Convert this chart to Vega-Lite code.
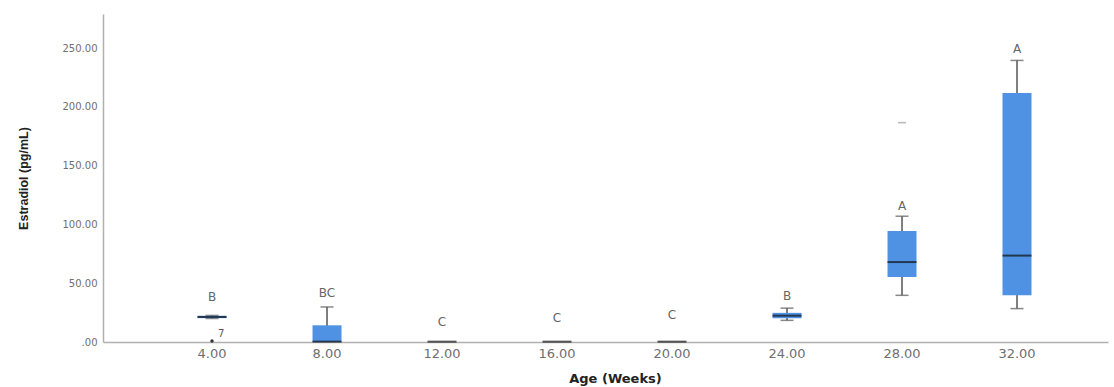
{
  "$schema": "https://vega.github.io/schema/vega-lite/v6.json",
  "autosize": {"type": "none"},
  "padding": {"left": 103, "top": 14, "right": 6, "bottom": 45},
  "width": 1005,
  "height": 328,
  "background": "white",
  "config": {
    "view": {"stroke": null},
    "font": "DejaVu Sans"
  },
  "datasets": {
    "boxes": [
      {"age": "4.00", "lower": 20.0, "q1": 20.3, "median": 21.3, "q3": 22.3, "upper": 22.6, "letter": "B", "letterY": 38},
      {"age": "8.00", "lower": 0, "q1": 0, "median": 0.3, "q3": 14.2, "upper": 29.8, "letter": "BC", "letterY": 42},
      {"age": "12.00", "lower": null, "q1": 0, "median": 0.3, "q3": 0, "upper": null, "letter": "C", "letterY": 17},
      {"age": "16.00", "lower": null, "q1": 0, "median": 0.3, "q3": 0, "upper": null, "letter": "C", "letterY": 20},
      {"age": "20.00", "lower": null, "q1": 0, "median": 0.3, "q3": 0, "upper": null, "letter": "C", "letterY": 22.7},
      {"age": "24.00", "lower": 18.4, "q1": 20.2, "median": 22.4, "q3": 24.8, "upper": 28.8, "letter": "B", "letterY": 39},
      {"age": "28.00", "lower": 39.7, "q1": 55.3, "median": 68.0, "q3": 94.4, "upper": 107.0, "letter": "A", "letterY": 116},
      {"age": "32.00", "lower": 28.4, "q1": 39.7, "median": 73.5, "q3": 211.7, "upper": 239.5, "letter": "A", "letterY": 249.5}
    ],
    "outliers": [
      {"age": "4.00", "value": 0.8, "label": "7"},
      {"age": "28.00", "value": 186.6, "label": ""}
    ]
  },
  "data": {"name": "boxes"},
  "encoding": {
    "x": {
      "field": "age",
      "type": "ordinal",
      "sort": ["4.00", "8.00", "12.00", "16.00", "20.00", "24.00", "28.00", "32.00"],
      "scale": {"paddingInner": 0, "paddingOuter": 0.3696, "align": 0.606},
      "axis": {
        "title": "Age (Weeks)",
        "labelAngle": 0,
        "ticks": false,
        "labelPadding": 5,
        "labelFontSize": 13,
        "labelColor": "#6f6f6f",
        "domainColor": "#b0b0b0",
        "domainWidth": 1.5,
        "titleFontSize": 13,
        "titleFontWeight": "bold",
        "titleColor": "#222222",
        "titleBaseline": "middle",
        "titleX": 512,
        "titleY": 36
      }
    }
  },
  "layer": [
    {
      "transform": [{"filter": "datum.upper != null"}],
      "mark": {"type": "rule", "color": "#555555", "strokeWidth": 1.5},
      "encoding": {
        "y": {
          "field": "lower",
          "type": "quantitative",
          "scale": {"domain": [0, 279], "nice": false},
          "axis": {
            "title": "Estradiol (pg/mL)",
            "values": [0, 50, 100, 150, 200, 250],
            "labelExpr": "datum.value == 0 ? '.00' : format(datum.value, '.2f')",
            "ticks": false,
            "grid": false,
            "labelPadding": 6,
            "labelFontSize": 10,
            "labelColor": "#6f6f6f",
            "domainColor": "#b0b0b0",
            "domainWidth": 1.5,
            "titleFont": "Liberation Sans",
            "titleFontSize": 12.5,
            "titleFontWeight": "bold",
            "titleColor": "#222222",
            "titleBaseline": "middle",
            "titleX": -80
          }
        },
        "y2": {"field": "upper"}
      }
    },
    {
      "transform": [{"filter": "datum.upper != null"}],
      "mark": {"type": "tick", "color": "#555555", "size": 13, "thickness": 1.5},
      "encoding": {"y": {"field": "upper", "type": "quantitative"}}
    },
    {
      "transform": [{"filter": "datum.lower != null && datum.lower > 0"}],
      "mark": {"type": "tick", "color": "#555555", "size": 13, "thickness": 1.5},
      "encoding": {"y": {"field": "lower", "type": "quantitative"}}
    },
    {
      "mark": {"type": "bar", "size": 29, "color": "#4f92e3"},
      "encoding": {
        "y": {"field": "q1", "type": "quantitative"},
        "y2": {"field": "q3"}
      }
    },
    {
      "mark": {"type": "tick", "color": "#111111", "size": 29, "thickness": 2},
      "encoding": {"y": {"field": "median", "type": "quantitative"}}
    },
    {
      "mark": {"type": "text", "color": "#666666", "fontSize": 12, "baseline": "middle", "align": "center"},
      "encoding": {
        "y": {"field": "letterY", "type": "quantitative"},
        "text": {"field": "letter"}
      }
    },
    {
      "data": {"name": "outliers"},
      "transform": [{"filter": "datum.age == '28.00'"}],
      "mark": {"type": "tick", "color": "#999999", "size": 8, "thickness": 1.5},
      "encoding": {"y": {"field": "value", "type": "quantitative"}}
    },
    {
      "data": {"name": "outliers"},
      "transform": [{"filter": "datum.age == '4.00'"}],
      "mark": {"type": "point", "shape": "circle", "filled": true, "color": "#333333", "size": 12, "opacity": 1},
      "encoding": {"y": {"field": "value", "type": "quantitative"}}
    },
    {
      "data": {"name": "outliers"},
      "mark": {"type": "text", "color": "#555555", "fontSize": 10, "align": "left", "baseline": "middle", "dx": 6, "dy": -7},
      "encoding": {
        "y": {"field": "value", "type": "quantitative"},
        "text": {"field": "label"}
      }
    }
  ]
}
